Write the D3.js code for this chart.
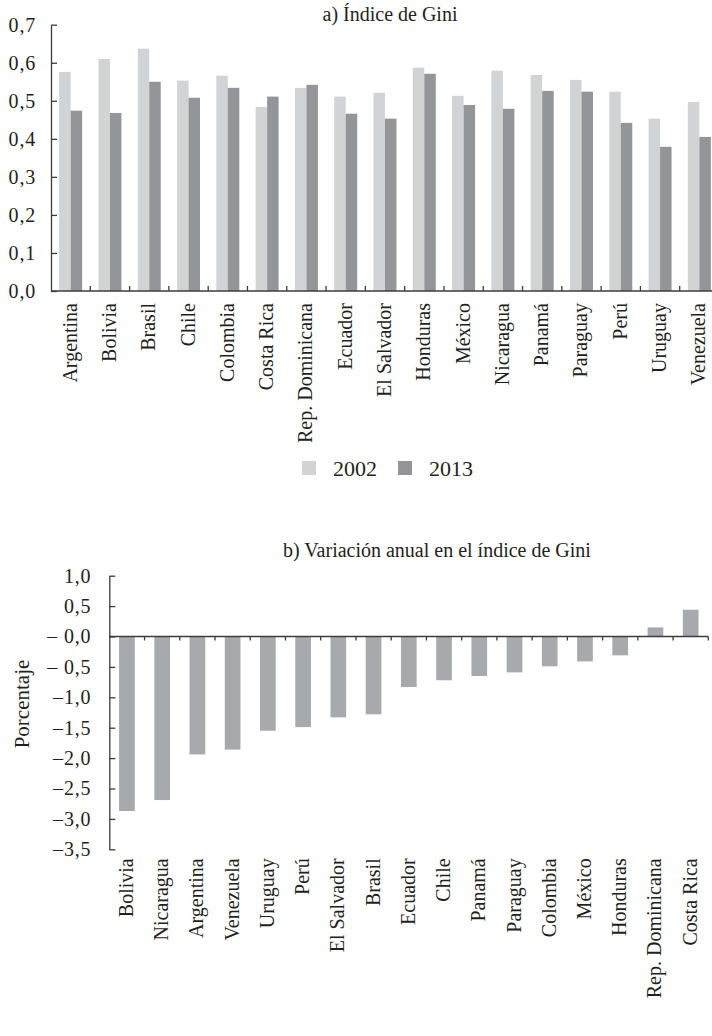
<!DOCTYPE html>
<html>
<head>
<meta charset="utf-8">
<script src="https://cdn.jsdelivr.net/npm/d3@7"></script>
<style>
  html, body { margin: 0; padding: 0; background: #fff; }
  svg text { font-family: "Liberation Serif", "Times New Roman", serif; fill: #231f20; }
</style>
</head>
<body>
<svg id="chart" width="712" height="1036"></svg>
<script>
// Panel a) Gini index by country, 2002 and 2013
const countriesA = ["Argentina","Bolivia","Brasil","Chile","Colombia","Costa Rica","Rep. Dominicana","Ecuador","El Salvador","Honduras","México","Nicaragua","Panamá","Paraguay","Perú","Uruguay","Venezuela"];
const gini2002 = [0.576,0.610,0.637,0.553,0.566,0.484,0.534,0.511,0.521,0.587,0.513,0.579,0.568,0.555,0.524,0.453,0.497];
const gini2013 = [0.474,0.468,0.550,0.508,0.534,0.511,0.542,0.466,0.453,0.571,0.489,0.479,0.526,0.524,0.442,0.379,0.405];
const yearsA = ["2002","2013"];
const ticksA = [0,0.1,0.2,0.3,0.4,0.5,0.6,0.7];

// Panel b) Annual variation of the Gini index (percent), sorted
const countriesB = ["Bolivia","Nicaragua","Argentina","Venezuela","Uruguay","Perú","El Salvador","Brasil","Ecuador","Chile","Panamá","Paraguay","Colombia","México","Honduras","Rep. Dominicana","Costa Rica"];
const variation = [-2.87,-2.69,-1.94,-1.86,-1.55,-1.49,-1.33,-1.28,-0.83,-0.72,-0.65,-0.59,-0.49,-0.41,-0.31,0.15,0.44];
const ticksB = [1.0,0.5,0.0,-0.5,-1.0,-1.5,-2.0,-2.5,-3.0,-3.5];
const tickLabelsB = ["1,0","0,5","– 0,0","– 0,5","–1,0","–1,5","–2,0","–2,5","–3,0","–3,5"];

const ink = "#231f20";
const axisInk = "#3c3c3c";
const colors = { "2002": "#d1d3d4", "2013": "#939598" };
const barB = "#a7a9ac";
const fontSize = 20;

const svg = d3.select("#chart");
const comma = v => d3.format(".1f")(v).replace(".", ",");

function styleTickText(sel) {
  sel.attr("font-size", fontSize).attr("fill", ink).attr("letter-spacing", "0.8px");
}

// ---------- Panel a ----------
{
  const left = 51, right = 719, top = 24.7, bottom = 291;
  const pad = 0.415;
  const x0 = d3.scaleBand().domain(countriesA).range([left, right]).paddingInner(pad).paddingOuter(pad / 2);
  const x1 = d3.scaleBand().domain(yearsA).range([0, x0.bandwidth()]);
  const y = d3.scaleLinear().domain([0, 0.7]).range([bottom, top]);

  const g = svg.append("g");

  // bars
  const rows = countriesA.map((c, i) => ({ c, vals: [{ k: "2002", v: gini2002[i] }, { k: "2013", v: gini2013[i] }] }));
  g.selectAll("g.grp").data(rows).join("g")
    .attr("transform", d => `translate(${x0(d.c)},0)`)
    .selectAll("rect").data(d => d.vals).join("rect")
      .attr("x", d => x1(d.k))
      .attr("width", x1.bandwidth())
      .attr("y", d => y(d.v))
      .attr("height", d => y(0) - y(d.v))
      .attr("fill", d => colors[d.k]);

  // y axis, ticks pointing inward
  const ya = g.append("g").attr("transform", `translate(${left},0)`)
    .call(d3.axisLeft(y).tickValues(ticksA).tickFormat(comma).tickSizeInner(-6).tickSizeOuter(0).tickPadding(15));
  ya.select(".domain").attr("stroke", axisInk).attr("stroke-width", 1.3);
  ya.selectAll(".tick line").attr("stroke", axisInk).attr("stroke-width", 1.3);
  ya.selectAll("text").call(styleTickText);

  // x axis: category labels, boundary ticks pointing up
  const xa = g.append("g").attr("transform", `translate(0,${bottom})`)
    .call(d3.axisBottom(x0).tickSize(0).tickSizeOuter(0));
  xa.select(".domain").remove();
  xa.selectAll("text")
    .attr("font-size", fontSize).attr("fill", ink)
    .attr("text-anchor", "end")
    .attr("transform", "rotate(-90)")
    .attr("x", -12).attr("y", 0).attr("dy", "0.3em").attr("dx", 0);
  g.append("line").attr("x1", left).attr("x2", right).attr("y1", bottom).attr("y2", bottom)
    .attr("stroke", axisInk).attr("stroke-width", 1.3);
  const step = x0.step();
  g.selectAll("line.bt").data(countriesA.slice(1)).join("line")
    .attr("class", "bt")
    .attr("x1", d => x0(d) - step * pad / 2).attr("x2", d => x0(d) - step * pad / 2)
    .attr("y1", bottom).attr("y2", bottom - 5)
    .attr("stroke", axisInk).attr("stroke-width", 1.3);

  // title
  svg.append("text").attr("x", 390).attr("y", 21).attr("text-anchor", "middle")
    .attr("font-size", fontSize).text("a) Índice de Gini");

  // legend
  const lg = svg.append("g");
  const items = [{ k: "2002", x: 302 }, { k: "2013", x: 398 }];
  lg.selectAll("rect").data(items).join("rect")
    .attr("x", d => d.x).attr("y", 461).attr("width", 14).attr("height", 14)
    .attr("fill", d => colors[d.k]);
  lg.selectAll("text").data(items).join("text")
    .attr("x", d => d.x + 31).attr("y", 475.5)
    .attr("font-size", 22).text(d => d.k);
}

// ---------- Panel b ----------
{
  const left = 109.3, right = 708.3, top = 575.7, bottom = 849.3;
  const pad = 0.555;
  const x = d3.scaleBand().domain(countriesB).range([left, right]).paddingInner(pad).paddingOuter(pad / 2);
  const y = d3.scaleLinear().domain([-3.5, 1.0]).range([bottom, top]);
  const g = svg.append("g");

  g.selectAll("rect").data(countriesB.map((c, i) => ({ c, v: variation[i] }))).join("rect")
    .attr("x", d => x(d.c))
    .attr("width", x.bandwidth())
    .attr("y", d => y(Math.max(0, d.v)))
    .attr("height", d => Math.abs(y(d.v) - y(0)))
    .attr("fill", barB);

  // y axis, ticks pointing inward
  const ya = g.append("g").attr("transform", `translate(${left},0)`)
    .call(d3.axisLeft(y).tickValues(ticksB).tickFormat((d, i) => tickLabelsB[i]).tickSizeInner(-6).tickSizeOuter(0).tickPadding(18));
  ya.select(".domain").attr("stroke", axisInk).attr("stroke-width", 1.3);
  ya.selectAll(".tick line").attr("stroke", axisInk).attr("stroke-width", 1.3);
  ya.selectAll("text").call(styleTickText);

  // zero line with boundary ticks
  g.append("line").attr("x1", left).attr("x2", right).attr("y1", y(0)).attr("y2", y(0))
    .attr("stroke", axisInk).attr("stroke-width", 1.3);
  const step = x.step();
  g.selectAll("line.bt").data(countriesB.slice(1).concat([null])).join("line")
    .attr("class", "bt")
    .attr("x1", d => d ? x(d) - step * pad / 2 : right).attr("x2", d => d ? x(d) - step * pad / 2 : right)
    .attr("y1", y(0)).attr("y2", y(0) + 4)
    .attr("stroke", axisInk).attr("stroke-width", 1.3);

  // category labels at the bottom of the plot
  const xa = g.append("g").attr("transform", `translate(0,${bottom})`)
    .call(d3.axisBottom(x).tickSize(0).tickSizeOuter(0));
  xa.select(".domain").remove();
  xa.selectAll("text")
    .attr("font-size", fontSize).attr("fill", ink)
    .attr("text-anchor", "end")
    .attr("transform", "rotate(-90)")
    .attr("x", -9).attr("y", 0).attr("dy", "0.3em").attr("dx", 0);

  // axis title
  svg.append("text").attr("transform", `translate(29,704) rotate(-90)`)
    .attr("text-anchor", "middle").attr("font-size", 21).text("Porcentaje");

  // title
  svg.append("text").attr("x", 437).attr("y", 557).attr("text-anchor", "middle")
    .attr("font-size", fontSize).text("b) Variación anual en el índice de Gini");
}
</script>
</body>
</html>
